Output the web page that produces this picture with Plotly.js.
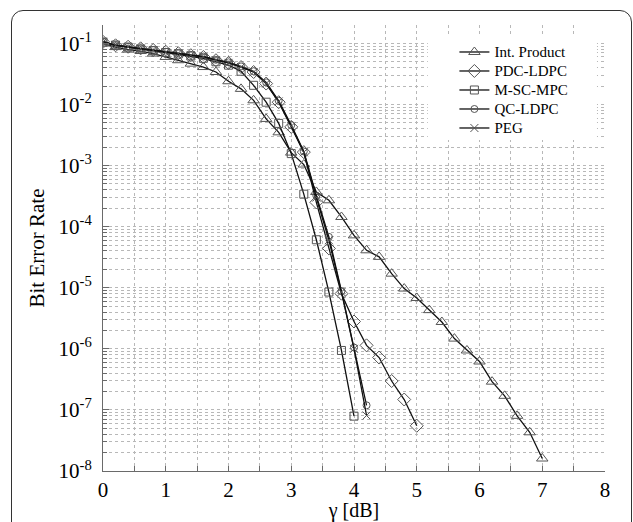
<!DOCTYPE html>
<html><head><meta charset="utf-8">
<script src="https://cdn.plot.ly/plotly-3.0.1.min.js"></script>
<style>
html,body{margin:0;padding:0;background:#fff;}
body{width:633px;height:522px;overflow:hidden;position:relative;}
#frame{position:absolute;left:11px;top:10px;width:621px;height:560px;border:1.4px solid #333;border-radius:12px;box-sizing:border-box;}
#chart{position:absolute;left:0;top:0;width:633px;height:522px;}
</style></head>
<body><div id="frame"></div><div id="chart"></div>
<script>
// ---- data ----
const seriesNames = ['Int. Product', 'PDC-LDPC', 'M-SC-MPC', 'QC-LDPC', 'PEG'];

const intProductX = [0,0.2,0.4,0.6,0.8,1.0,1.2,1.4,1.6,1.8,2.0,2.2,2.4,2.6,2.8,3.0,3.2,3.4,3.6,3.8,4.0,4.2,4.4,4.6,4.8,5.0,5.2,5.4,5.6,5.8,6.0,6.2,6.4,6.6,6.8,7.0];
const intProductY = [0.099,0.087,0.079,0.075,0.068,0.060,0.053,0.0466,0.041,0.034,0.024,0.018,0.0117,0.0058,0.0035,0.00163,0.00104,3.7e-4,2.7e-4,1.44e-4,7.2e-5,4.1e-5,3.2e-5,1.7e-5,9.7e-6,6.8e-6,4.3e-6,2.75e-6,1.47e-6,9.4e-7,6.2e-7,2.9e-7,1.7e-7,8e-8,4.3e-8,1.6e-8];

const pdcX = [0,0.2,0.4,0.6,0.8,1.0,1.2,1.4,1.6,1.8,2.0,2.2,2.4,2.6,2.8,3.0,3.2,3.4,3.6,3.8,4.0,4.2,4.4,4.6,4.8,5.0];
const pdcY = [0.106,0.093,0.088,0.083,0.078,0.073,0.069,0.064,0.060,0.053,0.048,0.041,0.034,0.022,0.0109,0.0043,0.00166,2.5e-4,4.4e-5,8.0e-6,2.8e-6,1.14e-6,7.2e-7,2.97e-7,1.48e-7,5.5e-8];

const mscX = [0,0.2,0.4,0.6,0.8,1.0,1.2,1.4,1.6,1.8,2.0,2.2,2.4,2.6,2.8,3.0,3.2,3.4,3.6,3.8,4.0];
const mscY = [0.105,0.094,0.087,0.081,0.076,0.071,0.067,0.062,0.057,0.050,0.044,0.035,0.0206,0.0109,0.0049,0.00157,3.4e-4,6.1e-5,8.5e-6,9.4e-7,7.9e-8];

const qcX = [0,0.2,0.4,0.6,0.8,1.0,1.2,1.4,1.6,1.8,2.0,2.2,2.4,2.6,2.8,3.0,3.2,3.4,3.6,3.8,4.0,4.2];
const qcY = [0.107,0.094,0.088,0.083,0.078,0.073,0.070,0.065,0.061,0.054,0.049,0.042,0.035,0.023,0.0115,0.0046,0.0017,3.2e-4,6.8e-5,8.8e-6,1.05e-6,1.19e-7];

const pegX = [0,0.2,0.4,0.6,0.8,1.0,1.2,1.4,1.6,1.8,2.0,2.2,2.4,2.6,2.8,3.0,3.2,3.4,3.6,3.8,4.0,4.2];
const pegY = [0.106,0.093,0.087,0.082,0.077,0.072,0.069,0.064,0.060,0.053,0.048,0.041,0.034,0.022,0.0112,0.0044,0.00165,3.0e-4,6.0e-5,8.5e-6,1.0e-6,8.1e-8];

const xTickVals = [0,1,2,3,4,5,6,7,8];
const xTickText = ['0','1','2','3','4','5','6','7','8'];
const yTickVals = [1e-8,1e-7,1e-6,1e-5,1e-4,1e-3,1e-2,1e-1];
const yTickText = ['10<sup>-8</sup>','10<sup>-7</sup>','10<sup>-6</sup>','10<sup>-5</sup>','10<sup>-4</sup>','10<sup>-3</sup>','10<sup>-2</sup>','10<sup>-1</sup>'];
const xLabel = 'γ [dB]';
const yLabel = 'Bit Error Rate';

// ---- styling ----
const serif = 'Liberation Serif, Times New Roman, serif';
const lineCol = '#111';
const mkCol = '#555';
const axisCol = '#6a6a6a';
const gridCol = '#b8b8b8';

const xMinor = [];
for (let i = 0; i < 8; i++) xMinor.push(i + 0.5);
const yMinor = [];
for (let e = -8; e <= -1; e++) for (let d = 2; d <= 9; d++) yMinor.push(d * Math.pow(10, e));

function tr(x, y, name, symbol, size) {
  return {
    x: x, y: y, name: name, type: 'scatter', mode: 'lines+markers',
    line: {color: lineCol, width: 1.3},
    marker: {symbol: symbol, size: size, color: mkCol, line: {color: mkCol, width: 1}}
  };
}

const data = [
  tr(intProductX, intProductY, seriesNames[0], 'triangle-up-open', 10),
  tr(pdcX, pdcY, seriesNames[1], 'diamond-open', 10),
  tr(mscX, mscY, seriesNames[2], 'square-open', 8),
  tr(qcX, qcY, seriesNames[3], 'circle-open', 7),
  tr(pegX, pegY, seriesNames[4], 'x-thin-open', 8)
];

const layout = {
  width: 633, height: 522,
  margin: {l: 103, r: 28, t: 25, b: 51},
  paper_bgcolor: 'rgba(0,0,0,0)',
  plot_bgcolor: '#fff',
  font: {family: serif, size: 21, color: '#000'},
  showlegend: true,
  legend: {
    x: 0.70, y: 0.972, xanchor: 'left', yanchor: 'top',
    bgcolor: 'rgba(0,0,0,0)', borderwidth: 0,
    font: {family: serif, size: 12, color: '#000'},
    tracegroupgap: 0, itemwidth: 30
  },
  xaxis: {
    range: [0, 8], tickmode: 'array', tickvals: xTickVals, ticktext: xTickText,
    ticks: 'inside', ticklen: 5, tickcolor: axisCol, tickwidth: 1,
    showline: true, linecolor: axisCol, linewidth: 1,
    showgrid: true, gridcolor: gridCol, griddash: 'dot', gridwidth: 1,
    zeroline: false, mirror: false,
    tickfont: {family: serif, size: 21, color: '#000'},
    minor: {tickmode: 'array', tickvals: xMinor, ticks: 'inside', ticklen: 5, tickcolor: axisCol,
            showgrid: true, gridcolor: gridCol, griddash: 'dot', gridwidth: 1},
    title: {text: xLabel, font: {family: serif, size: 20, color: '#000'}, standoff: 6}
  },
  yaxis: {
    type: 'log', range: [-8, Math.log10(0.2)],
    tickmode: 'array', tickvals: yTickVals, ticktext: yTickText,
    ticks: 'inside', ticklen: 6, tickcolor: axisCol, tickwidth: 1,
    showline: true, linecolor: axisCol, linewidth: 1,
    showgrid: true, gridcolor: gridCol, griddash: 'dot', gridwidth: 1,
    zeroline: false,
    tickfont: {family: serif, size: 21, color: '#000'},
    ticklabelstandoff: 6,
    minor: {tickmode: 'array', tickvals: yMinor, ticks: 'inside', ticklen: 4, tickcolor: axisCol,
            showgrid: true, gridcolor: gridCol, griddash: 'dot', gridwidth: 1},
    title: {text: yLabel, font: {family: serif, size: 21, color: '#000'}, standoff: 8}
  },
  shapes: [{
    type: 'rect', xref: 'paper', yref: 'paper', layer: 'above',
    x0: 0.647, x1: 0.984, y0: 0.742, y1: 0.975,
    fillcolor: '#fff', line: {width: 0}
  }]
};

Plotly.newPlot('chart', data, layout, {staticPlot: true, displayModeBar: false}).then(function (gd) {
  // compact legend rows (as in the reference) while keeping a readable text size
  gd.querySelectorAll('.legendtext').forEach(function (t) { t.style.fontSize = '15px'; });
  gd.querySelectorAll('.legend [clip-path], .legend .scrollbox').forEach(function (n) { n.removeAttribute('clip-path'); });
  gd.querySelectorAll('.legend').forEach(function (n) { n.removeAttribute('clip-path'); });
});
</script>
</body></html>
